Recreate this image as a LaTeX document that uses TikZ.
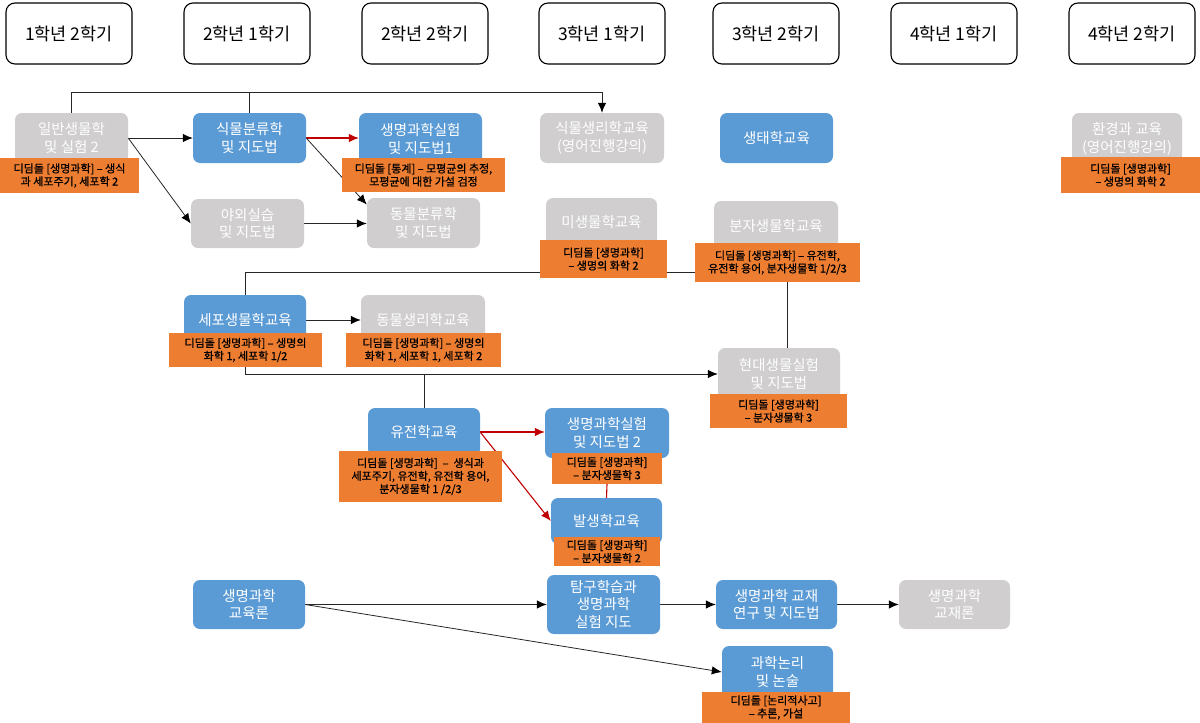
\documentclass[tikz,border=0pt]{standalone}
\usepackage{fontspec}
\setmainfont{Noto Sans CJK KR}
\newfontfamily\lblfont{Noto Sans CJK KR}[FakeBold=0.8]
\usetikzlibrary{arrows.meta}
\definecolor{cblue}{HTML}{5B9BD5}
\definecolor{cgray}{HTML}{D0CECE}
\definecolor{corange}{HTML}{ED7D31}
\definecolor{cred}{HTML}{C00000}
\pgfdeclarelayer{bg}
\pgfsetlayers{bg,main}
\tikzset{
  hdr/.style={draw=black, line width=1.1pt, rounded corners=9pt, fill=white,
    minimum width=126pt, minimum height=61pt, inner sep=0pt,
    font=\fontsize{17.5}{20}\selectfont},
  bbox/.style={fill=cblue, rounded corners=7pt, text=white, align=center,
    inner sep=0pt, font=\fontsize{14.5}{17.5}\selectfont},
  gbox/.style={bbox, fill=cgray},
  lbl/.style={fill=corange, text=black, align=center, inner sep=0pt,
    font=\lblfont\fontsize{11}{13}\selectfont},
  ln/.style={draw=black!85, line width=1pt},
  arr/.style={ln, -{Latex[length=10pt,width=8.5pt,color=black]}},
  rarr/.style={draw=cred, line width=1.1pt, -{Latex[length=10pt,width=8.5pt]}},
  rln/.style={draw=cred, line width=1.1pt},
  wh/.style 2 args={minimum width=#1pt, minimum height=#2pt},
}
\begin{document}
\begin{tikzpicture}[x=1pt,y=-1pt]
\useasboundingbox (0,0) rectangle (1200,723);
% headers
\node[hdr] (h1) at (69,33.5) {1학년 2학기};
\node[hdr] (h2) at (247,33.5) {2학년 1학기};
\node[hdr] (h3) at (425,33.5) {2학년 2학기};
\node[hdr] (h4) at (602,33.5) {3학년 1학기};
\node[hdr] (h5) at (776,33.5) {3학년 2학기};
\node[hdr] (h6) at (954,33.5) {4학년 1학기};
\node[hdr] (h7) at (1132,33.5) {4학년 2학기};
% row 1
\node[gbox, wh={113}{50}] (il) at (71.5,138) {일반생물학\\및 실험 2};
\node[lbl, wh={139}{35}] (ilL) at (69.5,175.5) {디딤돌 [생명과학] –  생식\\과 세포주기, 세포학 2};
\node[bbox, wh={113}{50}] (sb) at (249.5,138) {식물분류학\\및 지도법};
\node[bbox, wh={123}{52}] (s1) at (420.5,139) {생명과학실험\\및 지도법1};
\node[lbl, wh={163}{34}] (s1L) at (423.5,175) {디딤돌 [통계] – 모평균의 추정,\\모평균에 대한 가설 검정};
\node[gbox, wh={124}{50}] (sp) at (602,138) {식물생리학교육\\(영어진행강의)};
\node[bbox, wh={113}{50}] (tae) at (776.5,138) {생태학교육};
\node[gbox, wh={110}{52}] (env) at (1127,139) {환경과 교육\\(영어진행강의)};
\node[lbl, wh={139}{36}] (envL) at (1130.5,175) {디딤돌 [생명과학]\\– 생명의 화학 2};
% row 2
\node[gbox, wh={113}{49}] (ya) at (247.5,223.5) {야외실습\\및 지도법};
\node[gbox, wh={113}{50}] (dong) at (423.5,223) {동물분류학\\및 지도법};
\node[gbox, wh={111}{48}] (mi) at (601.5,222) {미생물학교육};
\node[lbl, wh={127}{38}] (miL) at (603.5,259) {디딤돌 [생명과학]\\– 생명의 화학 2};
\node[gbox, wh={124}{50}] (mol) at (776,226) {분자생물학교육};
\node[lbl, wh={165}{39}] (molL) at (777.5,262.5) {디딤돌 [생명과학] – 유전학,\\유전학 용어, 분자생물학 1/2/3};
% row 3
\node[bbox, wh={122}{50}] (se) at (245,320) {세포생물학교육};
\node[lbl, wh={153}{34}] (seL) at (245.5,350) {디딤돌 [생명과학] – 생명의\\화학 1, 세포학 1/2};
\node[gbox, wh={124}{50}] (dp) at (423,320) {동물생리학교육};
\node[lbl, wh={155}{34}] (dpL) at (423.5,350) {디딤돌 [생명과학] – 생명의\\화학 1, 세포학 1, 세포학 2};
\node[gbox, wh={122}{52}] (hy) at (779,374) {현대생물실험\\및 지도법};
\node[lbl, wh={137}{34}] (hyL) at (778.5,411) {디딤돌 [생명과학]\\– 분자생물학 3};
% row 4
\node[bbox, wh={112}{48}] (yu) at (424,432) {유전학교육};
\node[lbl, wh={163}{51}] (yuL) at (420.5,476.5) {디딤돌 [생명과학] \ – \ 생식과\\세포주기, 유전학, 유전학 용어,\\분자생물학 1 /2/3};
\node[bbox, wh={124}{50}] (s2) at (607,433) {생명과학실험\\및 지도법 2};
\node[lbl, wh={110}{31}] (s2L) at (607,468.5) {디딤돌 [생명과학]\\– 분자생물학 3};
\node[bbox, wh={111}{46}] (bal) at (606.5,521) {발생학교육};
\node[lbl, wh={106}{29}] (balL) at (607,551.5) {디딤돌 [생명과학]\\– 분자생물학 2};
% row 5
\node[bbox, wh={112}{49}] (ed) at (249,604.5) {생명과학\\교육론};
\node[bbox, wh={113}{59}] (tam) at (603.5,604.5) {탐구학습과\\생명과학\\실험 지도};
\node[bbox, wh={121}{49}] (gy) at (776.5,604.5) {생명과학 교재\\연구 및 지도법};
\node[gbox, wh={111}{49}] (gr) at (954.5,604.5) {생명과학\\교재론};
\node[bbox, wh={111}{52}] (non) at (777.5,672) {과학논리\\및 논술};
\node[lbl, wh={148}{31}] (nonL) at (776,707.5) {디딤돌 [논리적사고]\\– 추론, 가설};
% helper coordinates
\coordinate (t92) at (0,92);
\coordinate (t272) at (0,272);
\coordinate (t374) at (0,374);
\coordinate (x787) at (787,0);
\coordinate (x424) at (424,0);
% connectors
\begin{pgfonlayer}{bg}
\draw[arr] (il.north) -- (il.north |- t92) -| (sp.north);
\draw[ln] (sb.north) -- (sb.north |- t92);
\draw[arr] (il.east) -- (sb.west);
\draw[arr, line width=0.8pt] (il.east) -- (ya.west);
\draw[rarr] (sb.east) -- (sb.east -| s1.west);
\draw[arr, line width=0.8pt] (sb.east) -- (dong.162);
\draw[arr] (ya.east) -- (ya.east -| dong.west);
\draw[ln] (se.north) -- (se.north |- t272) -- (molL.west |- t272);
\draw[ln] (molL.south -| x787) -- (hy.north -| x787);
\draw[arr] (se.east) -- (dp.west);
\draw[arr] (seL.south) -- (seL.south |- t374) -- (hy.west);
\draw[ln] (x424 |- t374) -- (yu.north);
\draw[rarr] (yu.east) -- (yu.east -| s2.west);
\draw[rarr] (yu.east) -- (bal.west);
\draw[rln] (s2L.south) -- (bal.north);
\draw[arr] (ed.east) -- (tam.west);
\draw[arr, line width=0.8pt] (ed.east) -- (non.west);
\draw[arr] (tam.east) -- (gy.west);
\draw[arr] (gy.east) -- (gr.west);
\end{pgfonlayer}
\end{tikzpicture}
\end{document}
